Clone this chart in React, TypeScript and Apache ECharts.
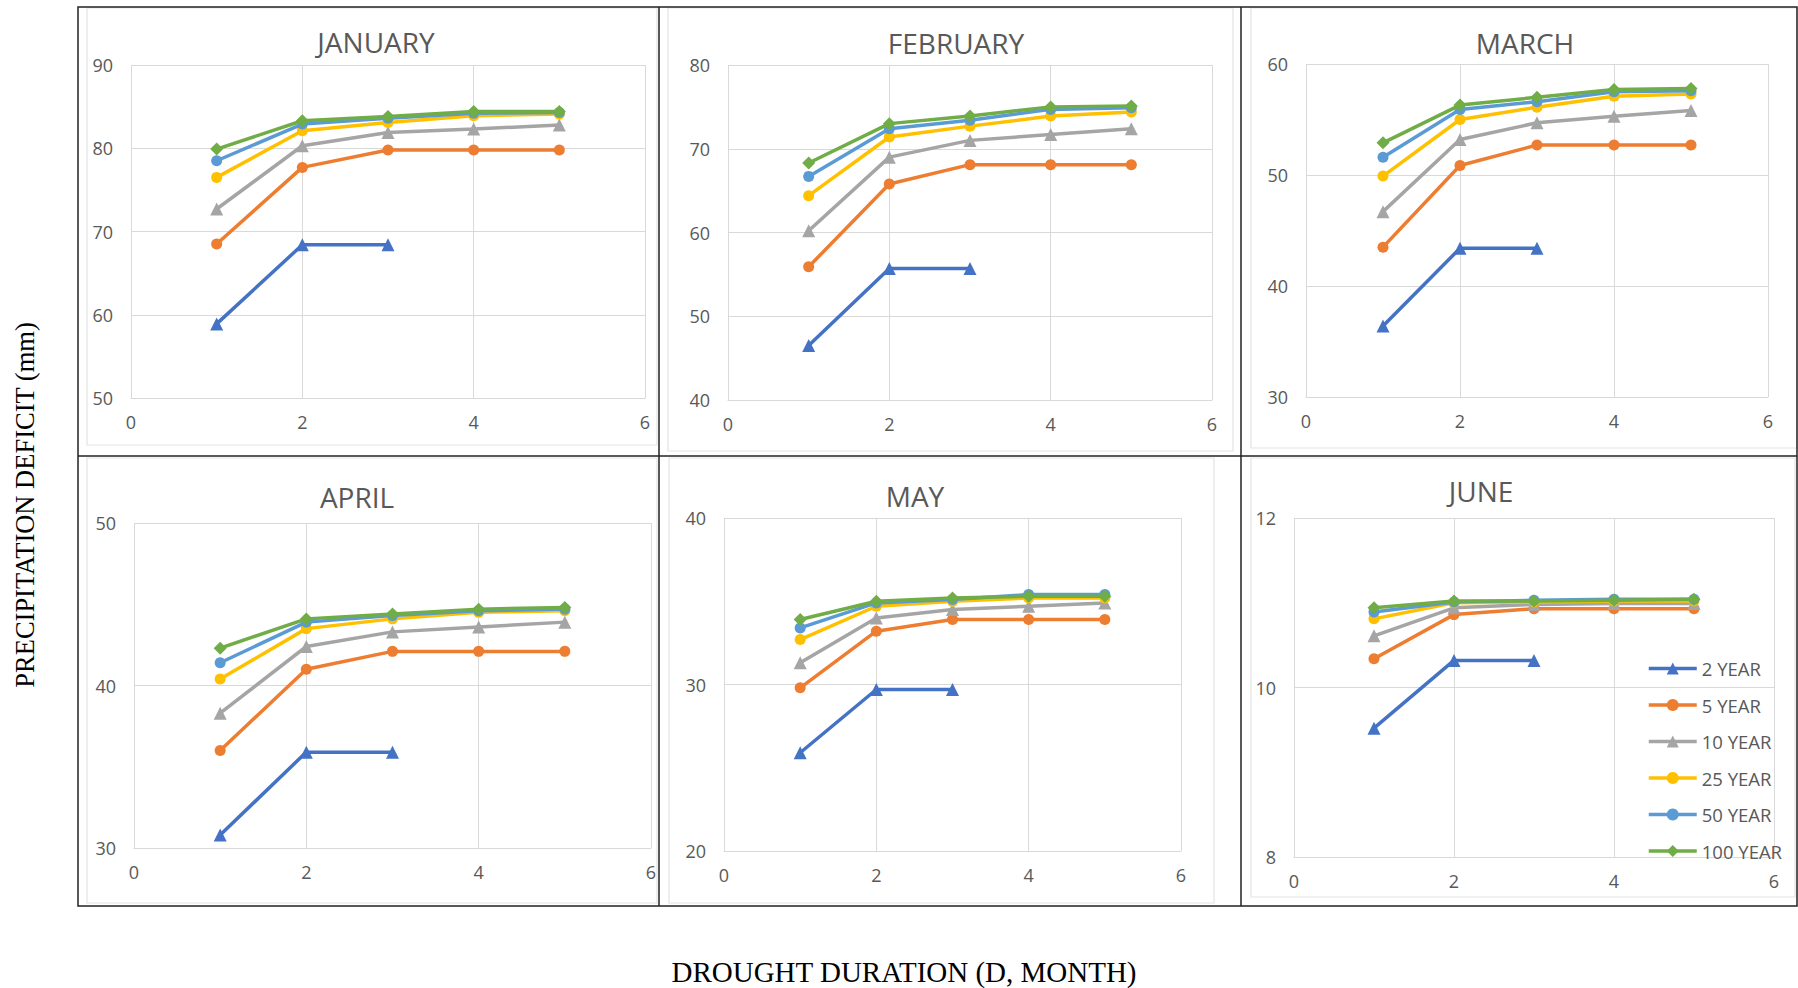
import React, { useEffect, useRef } from "react";
import * as echarts from "echarts";

// Drought duration (months) for each point
const DURATION = [1, 2, 3, 4, 5];
const SERIES_NAMES = ["2 YEAR", "5 YEAR", "10 YEAR", "25 YEAR", "50 YEAR", "100 YEAR"];
const MONTHS = ["JANUARY", "FEBRUARY", "MARCH", "APRIL", "MAY", "JUNE"];

// Values per month: one array per return period (2,5,10,25,50,100 YEAR)
const JANUARY = [
  [58.9, 68.4, 68.4],
  [68.5, 77.7, 79.8, 79.8, 79.8],
  [72.7, 80.3, 81.9, 82.3, 82.8],
  [76.5, 82.1, 83.1, 83.9, 84.1],
  [78.5, 82.9, 83.6, 84.2, 84.3],
  [79.9, 83.3, 83.8, 84.4, 84.4],
];
const FEBRUARY = [
  [46.5, 55.7, 55.7],
  [55.9, 65.8, 68.1, 68.1, 68.1],
  [60.2, 69.0, 71.0, 71.7, 72.4],
  [64.4, 71.4, 72.7, 73.9, 74.4],
  [66.7, 72.4, 73.4, 74.7, 74.9],
  [68.3, 73.0, 73.9, 75.0, 75.1],
];
const MARCH = [
  [36.4, 43.4, 43.4],
  [43.5, 50.85, 52.7, 52.7, 52.7],
  [46.7, 53.2, 54.7, 55.3, 55.8],
  [49.9, 55.0, 56.1, 57.1, 57.3],
  [51.6, 55.9, 56.6, 57.5, 57.6],
  [52.9, 56.3, 57.0, 57.7, 57.8],
];
const APRIL = [
  [30.8, 35.9, 35.9],
  [36.0, 41.0, 42.1, 42.1, 42.1],
  [38.3, 42.4, 43.3, 43.6, 43.9],
  [40.4, 43.5, 44.1, 44.5, 44.6],
  [41.4, 43.9, 44.3, 44.6, 44.7],
  [42.3, 44.1, 44.4, 44.7, 44.8],
];
const MAY = [
  [25.9, 29.7, 29.7],
  [29.8, 33.2, 33.9, 33.9, 33.9],
  [31.3, 34.0, 34.5, 34.7, 34.9],
  [32.7, 34.7, 35.0, 35.2, 35.2],
  [33.4, 34.9, 35.1, 35.4, 35.4],
  [33.9, 35.0, 35.2, 35.3, 35.3],
];
const JUNE = [
  [9.52, 10.32, 10.32],
  [10.34, 10.86, 10.93, 10.93, 10.93],
  [10.61, 10.94, 10.98, 10.99, 10.99],
  [10.81, 11.0, 11.01, 11.02, 11.02],
  [10.89, 11.01, 11.03, 11.04, 11.04],
  [10.94, 11.02, 11.02, 11.03, 11.04],
];
const MONTH_DATA = [JANUARY, FEBRUARY, MARCH, APRIL, MAY, JUNE];

// Y axis ranges per month: [min, max, interval]
const Y_MIN = [50, 40, 30, 30, 20, 8];
const Y_MAX = [90, 80, 60, 50, 40, 12];
const Y_STEP = [10, 10, 10, 10, 10, 2];
const X_MIN = 0;
const X_MAX = 6;
const X_STEP = 2;

const COLORS = ["#4472C4", "#ED7D31", "#A5A5A5", "#FFC000", "#5B9BD5", "#70AD47"];
const SYMBOLS = ["triangle", "circle", "triangle", "circle", "circle", "diamond"];
const SYMBOL_SIZES = [13, 11, 13, 11, 11, 13];

const FONT = "'Open Sans', sans-serif";
const SERIF = "'Liberation Serif', 'DejaVu Serif', serif";
const TEXT = "#595959";
const GRIDC = "#D9D9D9";

// plot-area rectangles [left, top, width, height]
const GRIDS = [
  [131, 65, 514, 333],
  [728, 65, 484, 335],
  [1306, 64, 462, 333],
  [134, 523, 517, 325],
  [724, 518, 457, 333],
  [1294, 518, 480, 339],
];
const TITLE_POS = [
  [376, 42],
  [956, 43],
  [1525, 43],
  [357, 497],
  [915, 496],
  [1481, 491],
];
// Excel chart-area (light) boxes [x0,y0,x1,y1]
const INNER_BOXES = [
  [87, 8, 657, 445],
  [668, 8, 1233, 451],
  [1251, 8, 1797, 448],
  [87, 458, 657, 903],
  [669, 458, 1214, 903],
  [1251, 458, 1795, 897],
];

export default function App() {
  const ref = useRef<HTMLDivElement>(null);

  useEffect(() => {
    if (!ref.current) return;
    const chart = echarts.init(ref.current, null, { renderer: "svg" });

    const grid = GRIDS.map((g) => ({ left: g[0], top: g[1], width: g[2], height: g[3], containLabel: false }));

    const xAxis = GRIDS.map((_, i) => ({
      type: "value",
      gridIndex: i,
      min: X_MIN,
      max: X_MAX,
      interval: X_STEP,
      axisLine: { show: true, lineStyle: { color: GRIDC, width: 1 } },
      axisTick: { show: false },
      splitLine: { show: true, lineStyle: { color: GRIDC, width: 1 } },
      axisLabel: { color: TEXT, fontSize: 18, fontFamily: FONT, margin: 15 },
    }));

    const yAxis = GRIDS.map((_, i) => ({
      type: "value",
      gridIndex: i,
      min: Y_MIN[i],
      max: Y_MAX[i],
      interval: Y_STEP[i],
      axisLine: { show: false },
      axisTick: { show: false },
      splitLine: { show: true, lineStyle: { color: GRIDC, width: 1 } },
      axisLabel: { color: TEXT, fontSize: 18, fontFamily: FONT, margin: 18 },
    }));

    const series: any[] = [];
    MONTH_DATA.forEach((month, mi) => {
      month.forEach((vals, si) => {
        series.push({
          type: "line",
          name: SERIES_NAMES[si],
          xAxisIndex: mi,
          yAxisIndex: mi,
          data: vals.map((v, k) => [DURATION[k], v]),
          symbol: SYMBOLS[si],
          symbolSize: SYMBOL_SIZES[si],
          showAllSymbol: true,
          lineStyle: { color: COLORS[si], width: 3.5 },
          itemStyle: { color: COLORS[si], borderWidth: 0 },
          emphasis: { disabled: true },
          z: 2 + si,
        });
      });
    });

    const graphic: any[] = [];
    INNER_BOXES.forEach((b) => {
      graphic.push({
        type: "rect",
        shape: { x: b[0], y: b[1], width: b[2] - b[0], height: b[3] - b[1] },
        style: { fill: "none", stroke: "#E3E3E3", lineWidth: 1.2 },
        silent: true,
        z: 0,
      });
    });
    // black frame
    graphic.push({
      type: "rect",
      shape: { x: 78, y: 7, width: 1719, height: 899 },
      style: { fill: "none", stroke: "#222", lineWidth: 1.5 },
      silent: true,
      z: 10,
    });
    graphic.push({ type: "line", shape: { x1: 78, y1: 456, x2: 1797, y2: 456 }, style: { stroke: "#222", lineWidth: 1.5 }, silent: true, z: 10 });
    graphic.push({ type: "line", shape: { x1: 659, y1: 7, x2: 659, y2: 906 }, style: { stroke: "#222", lineWidth: 1.5 }, silent: true, z: 10 });
    graphic.push({ type: "line", shape: { x1: 1241, y1: 7, x2: 1241, y2: 906 }, style: { stroke: "#222", lineWidth: 1.5 }, silent: true, z: 10 });

    MONTHS.forEach((m, i) => {
      graphic.push({
        type: "text",
        x: TITLE_POS[i][0],
        y: TITLE_POS[i][1],
        style: {
          text: m,
          fill: TEXT,
          font: `28px ${FONT}`,
          textAlign: "center",
          textVerticalAlign: "middle",
        },
        silent: true,
      });
    });

    graphic.push({
      type: "text",
      x: 904,
      y: 972,
      style: {
        text: "DROUGHT DURATION (D, MONTH)",
        fill: "#000",
        font: `29px ${SERIF}`,
        textAlign: "center",
        textVerticalAlign: "middle",
      },
      silent: true,
    });
    graphic.push({
      type: "text",
      x: 25,
      y: 505,
      rotation: Math.PI / 2,
      style: {
        text: "PRECIPITATION DEFICIT (mm)",
        fill: "#000",
        font: `26.5px ${SERIF}`,
        textAlign: "center",
        textVerticalAlign: "middle",
      },
      silent: true,
    });

    chart.setOption({
      animation: false,
      backgroundColor: "#fff",
      grid,
      xAxis,
      yAxis,
      series,
      legend: {
        show: true,
        data: SERIES_NAMES,
        orient: "vertical",
        left: 1642,
        top: 654,
        itemWidth: 48,
        itemHeight: 15,
        itemGap: 17.5,
        lineStyle: { width: 3.5 },
        textStyle: { color: TEXT, fontSize: 18.5, fontFamily: FONT, padding: [0, 0, 0, 0] },
        selectedMode: false,
      },
      graphic,
    });

    return () => chart.dispose();
  }, []);

  return (
    <div
      ref={ref}
      style={{ position: "fixed", left: 0, top: 0, width: 1798, height: 988, background: "#fff" }}
    />
  );
}
